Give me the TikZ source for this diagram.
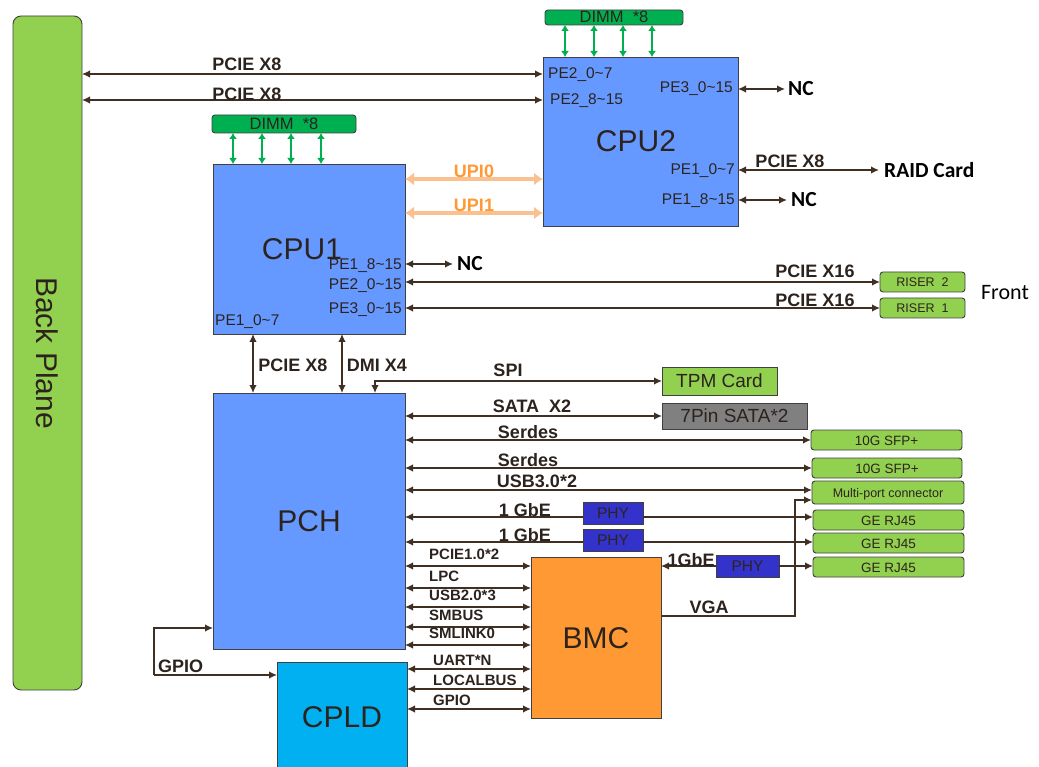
\documentclass[tikz,border=0pt]{standalone}
\usepackage{fontspec}
\setmainfont{Liberation Sans}
\newfontfamily\calfont{Carlito}
\usetikzlibrary{arrows.meta,calc}
\definecolor{lgreen}{RGB}{146,208,80}
\definecolor{dgreen}{RGB}{0,176,80}
\definecolor{cpublue}{RGB}{102,153,255}
\definecolor{edge}{RGB}{64,64,64}
\definecolor{arr}{RGB}{64,48,36}
\definecolor{txt}{RGB}{45,35,30}
\definecolor{upi}{RGB}{250,192,143}
\definecolor{upitxt}{RGB}{255,153,51}
\definecolor{bmcor}{RGB}{255,153,51}
\definecolor{phyblue}{RGB}{51,51,204}
\definecolor{cpldblue}{RGB}{0,176,240}
\definecolor{sgray}{RGB}{128,128,128}
\tikzset{
  box/.style={draw=edge, line width=0.9pt, inner sep=0pt, outer sep=0pt, anchor=north west, text=txt, text depth=0pt},
  gbox/.style={box, fill=lgreen, rounded corners=3pt},
  lb/.style={font=\bfseries\fontsize{18}{18}\selectfont, text=txt, inner sep=0pt},
  sl/.style={font=\bfseries\fontsize{15}{15}\selectfont, text=txt, inner sep=0pt, anchor=west},
  pe/.style={font=\fontsize{15.5}{15.5}\selectfont, text=txt, inner sep=0pt},
  nc/.style={font=\calfont\bfseries\fontsize{21.5}{21.5}\selectfont, text=black, inner sep=0pt, anchor=west},
  conn/.style={draw=arr, line width=1.4pt},
  dimmarr/.style={draw=dgreen, line width=1.6pt, {Latex[length=6pt,width=8pt]}-{Latex[length=6pt,width=8pt]}},
  upiarr/.style={draw=upi, line width=4pt, {Latex[length=9pt,width=13pt]}-{Latex[length=9pt,width=13pt]}},
  >={Latex[length=8pt,width=7.5pt]}
}
\begin{document}
\begin{tikzpicture}[x=1pt,y=-1pt]
\useasboundingbox (0,0) rectangle (1039,767);

% ---- boxes ----
\node[box, fill=lgreen, rounded corners=8pt, minimum width=69pt, minimum height=674pt] (bp) at (13,16) {};
\node[rotate=-90, font=\fontsize{30}{30}\selectfont, text=txt] (bptext) at (bp.center) {Back Plane};

\node[box, fill=cpublue, minimum width=195pt, minimum height=169pt] (cpu2) at (543,57) {};
\node[font=\fontsize{30}{30}\selectfont, text=txt, inner sep=0pt] (cpu2t) at (636,141) {CPU2};
\node[box, fill=dgreen, rounded corners=3pt, minimum width=138pt, minimum height=15pt, text height=11pt, font=\fontsize{16.5}{16.5}\selectfont] (dimm2) at (545,10) {DIMM~~*8};

\node[box, fill=cpublue, minimum width=192pt, minimum height=170pt] (cpu1) at (213,164) {};
\node[font=\fontsize{30}{30}\selectfont, text=txt, inner sep=0pt] (cpu1t) at (302,249) {CPU1};
\node[box, fill=dgreen, rounded corners=3pt, minimum width=144pt, minimum height=18pt, text height=11pt, font=\fontsize{16.5}{16.5}\selectfont] (dimm1) at (212,115) {DIMM~~*8};

\node[gbox, minimum width=85pt, minimum height=20pt, text height=9pt, font=\fontsize{12.5}{12.5}\selectfont] (riser2) at (880,272) {RISER~~2};
\node[gbox, minimum width=85pt, minimum height=20pt, text height=9pt, font=\fontsize{12.5}{12.5}\selectfont] (riser1) at (880,298) {RISER~~1};

\node[box, fill=cpublue, minimum width=192pt, minimum height=256pt, font=\fontsize{30}{30}\selectfont, text height=21pt] (pch) at (213,393) {PCH};

\node[gbox, rounded corners=0pt, minimum width=115pt, minimum height=28pt, text height=13pt, font=\fontsize{19}{19}\selectfont] (tpm) at (662,367) {TPM Card};
\node[box, fill=sgray, minimum width=145pt, minimum height=26pt, text height=13pt, font=\fontsize{19}{19}\selectfont] (sata) at (662,403) {7Pin SATA*2};

\node[gbox, minimum width=151pt, minimum height=20pt, text height=10pt, font=\fontsize{13.5}{13.5}\selectfont] (sfp1) at (811,430) {10G SFP+};
\node[gbox, minimum width=150pt, minimum height=20pt, text height=10pt, font=\fontsize{13.5}{13.5}\selectfont] (sfp2) at (812,458) {10G SFP+};
\node[gbox, minimum width=152pt, minimum height=23pt, text height=10pt, font=\fontsize{12.5}{12.5}\selectfont] (multi) at (812,481) {Multi-port connector};
\node[gbox, minimum width=151pt, minimum height=20pt, text height=10pt, font=\fontsize{13.5}{13.5}\selectfont] (rj1) at (813,510) {GE RJ45};
\node[gbox, minimum width=151pt, minimum height=20pt, text height=10pt, font=\fontsize{13.5}{13.5}\selectfont] (rj2) at (813,533) {GE RJ45};
\node[gbox, minimum width=151pt, minimum height=20pt, text height=10pt, font=\fontsize{13.5}{13.5}\selectfont] (rj3) at (813,557) {GE RJ45};

\node[box, fill=phyblue, minimum width=60pt, minimum height=22pt, text height=11pt, font=\fontsize{15.5}{15.5}\selectfont] (phy1) at (583,502) {PHY};
\node[box, fill=phyblue, minimum width=60pt, minimum height=22pt, text height=11pt, font=\fontsize{15.5}{15.5}\selectfont] (phy2) at (583,529) {PHY};
\node[box, fill=phyblue, minimum width=63pt, minimum height=22pt, text height=11pt, font=\fontsize{15.5}{15.5}\selectfont] (phy3) at (716,555) {PHY};

\node[box, fill=bmcor, minimum width=130pt, minimum height=161pt, text height=21pt, font=\fontsize{30}{30}\selectfont] (bmc) at (531,557) {BMC};
\node[box, fill=cpldblue, minimum width=130pt, minimum height=110pt, text height=21pt, font=\fontsize{30}{30}\selectfont] (cpld) at (277,662) {CPLD};

% ---- DIMM arrows ----
\foreach \x in {565,594,623,652} {
  \coordinate (d2\x) at (\x,0);
  \draw[dimmarr] (dimm2.south -| d2\x) -- (cpu2.north -| d2\x);
}
\foreach \x in {233,262,291,321} {
  \coordinate (d1\x) at (\x,0);
  \draw[dimmarr] (dimm1.south -| d1\x) -- (cpu1.north -| d1\x);
}

% ---- CPU2 port labels ----
\node[pe, anchor=west] (pe20) at (548,75) {PE2\_0\textasciitilde7};
\node[pe, anchor=west] (pe28) at (550,101) {PE2\_8\textasciitilde15};
\node[pe, anchor=east] (pe30) at (733,89) {PE3\_0\textasciitilde15};
\node[pe, anchor=east] (pe10) at (735,171) {PE1\_0\textasciitilde7};
\node[pe, anchor=east] (pe18) at (735,201) {PE1\_8\textasciitilde15};

\coordinate (y74) at (0,74);
\coordinate (y100) at (0,100);
\draw[conn, <->] (bp.east |- y74) -- (cpu2.west |- y74);
\draw[conn, <->] (bp.east |- y100) -- (cpu2.west |- y100);
\node[lb] (lx1) at (247,64) {PCIE X8};
\node[lb] (lx2) at (247,94) {PCIE X8};

\node[nc] (nc1) at (788,89) {NC};
\draw[conn, <->] (cpu2.east |- nc1.west) -- ($(nc1.west)+(-3,0)$);
\node[nc] (raid) at (884,170) {RAID Card};
\draw[conn, <->] (cpu2.east |- raid.west) -- ($(raid.west)+(-5,0)$);
\node[lb] (lraid) at (790,161) {PCIE X8};
\node[nc] (nc2) at (791,200) {NC};
\draw[conn, <->] (cpu2.east |- nc2.west) -- ($(nc2.west)+(-4,0)$);

% ---- UPI ----
\coordinate (u0) at (0,179);
\coordinate (u1) at (0,213);
\draw[upiarr] (cpu1.east |- u0) -- (cpu2.west |- u0);
\draw[upiarr] (cpu1.east |- u1) -- (cpu2.west |- u1);
\node[lb, text=upitxt] (upi0) at (474,171) {UPI0};
\node[lb, text=upitxt] (upi1) at (474,205) {UPI1};

% ---- CPU1 port labels ----
\node[pe, anchor=east] (c118) at (402,266) {PE1\_8\textasciitilde15};
\node[pe, anchor=east] (c120) at (402,286) {PE2\_0\textasciitilde15};
\node[pe, anchor=east] (c130) at (402,310) {PE3\_0\textasciitilde15};
\node[pe, anchor=west] (c110) at (215,322) {PE1\_0\textasciitilde7};

\node[nc] (nc3) at (457,264) {NC};
\draw[conn, <->] (cpu1.east |- nc3.west) -- ($(nc3.west)+(-4,0)$);
\draw[conn, <->] (cpu1.east |- riser2.west) -- (riser2.west);
\draw[conn, <->] (cpu1.east |- riser1.west) -- (riser1.west);
\node[lb] (lr2) at (815,271) {PCIE X16};
\node[lb] (lr1) at (815,300) {PCIE X16};
\node[font=\calfont\fontsize{22}{22}\selectfont, text=black, inner sep=0pt] (front) at (1005,293) {Front};

% ---- CPU1 <-> PCH ----
\coordinate (v1) at (253,0);
\coordinate (v2) at (342,0);
\draw[conn, <->] (cpu1.south -| v1) -- (pch.north -| v1);
\draw[conn, <->] (cpu1.south -| v2) -- (pch.north -| v2);
\node[lb] (lpx8) at (293,365) {PCIE X8};
\node[lb] (ldmi) at (377,365) {DMI X4};

% ---- PCH right side ----
\coordinate (spi) at (375,0);
\draw[conn, <->] (pch.north -| spi) |- (tpm.west);
\node[lb] (lspi) at (508,370) {SPI};
\draw[conn, <->] (pch.east |- sata.west) -- (sata.west);
\node[lb] (lsata) at (532,406) {SATA~~X2};
\draw[conn, <->] (pch.east |- sfp1.west) -- (sfp1.west);
\node[lb] (lser1) at (528,432) {Serdes};
\draw[conn, <->] (pch.east |- sfp2.west) -- (sfp2.west);
\node[lb] (lser2) at (528,460) {Serdes};
\coordinate (y490) at (0,490);
\draw[conn, <->] (pch.east |- y490) -- (multi.west |- y490);
\node[lb] (lusb3) at (537,481) {USB3.0*2};

\coordinate (g1) at (0,517);
\draw[conn, ->] (phy1.west |- g1) -- (pch.east |- g1);
\draw[conn, ->] (phy1.east |- g1) -- (rj1.west |- g1);
\node[lb] (lg1) at (525,510) {1 GbE};
\coordinate (g2) at (0,542);
\draw[conn, ->] (phy2.west |- g2) -- (pch.east |- g2);
\draw[conn, ->] (phy2.east |- g2) -- (rj2.west |- g2);
\node[lb] (lg2) at (525,535) {1 GbE};

\draw[conn, ->] (phy3.west) -- (bmc.east |- phy3.west);
\draw[conn, ->] (phy3.east) -- (rj3.west |- phy3.east);
\node[lb] (lg3) at (691,560) {1GbE};

\coordinate (vga) at (795,616);
\coordinate (y500) at (0,500);
\draw[conn, ->] (bmc.east |- vga) -- (vga) |- (multi.west |- y500);
\node[lb] (lvga) at (709,607) {VGA};

% ---- PCH <-> BMC ----
\foreach \y/\t/\n in {566/PCIE1.0*2/a, 588/LPC/b, 607/USB2.0*3/c, 627/SMBUS/d, 645/SMLINK0/e} {
  \coordinate (b\n) at (0,\y);
  \draw[conn, <->] (pch.east |- b\n) -- (bmc.west |- b\n);
  \node[sl] (bl\n) at (429,\y-12) {\t};
}
\foreach \y/\t/\n in {669/UART*N/f, 689/LOCALBUS/g, 709/GPIO/h} {
  \coordinate (b\n) at (0,\y);
  \draw[conn, <->] (cpld.east |- b\n) -- (bmc.west |- b\n);
  \node[sl] (bl\n) at (433,\y-9) {\t};
}

% ---- GPIO loop ----
\coordinate (gx) at (154,675);
\coordinate (gy) at (0,628);
\draw[conn, ->] (gx) |- (pch.west |- gy);
\draw[conn, ->] (gx) -- (cpld.west |- gx);
\node[lb, anchor=west] (lgpio) at (158,666) {GPIO};
\end{tikzpicture}
\end{document}
